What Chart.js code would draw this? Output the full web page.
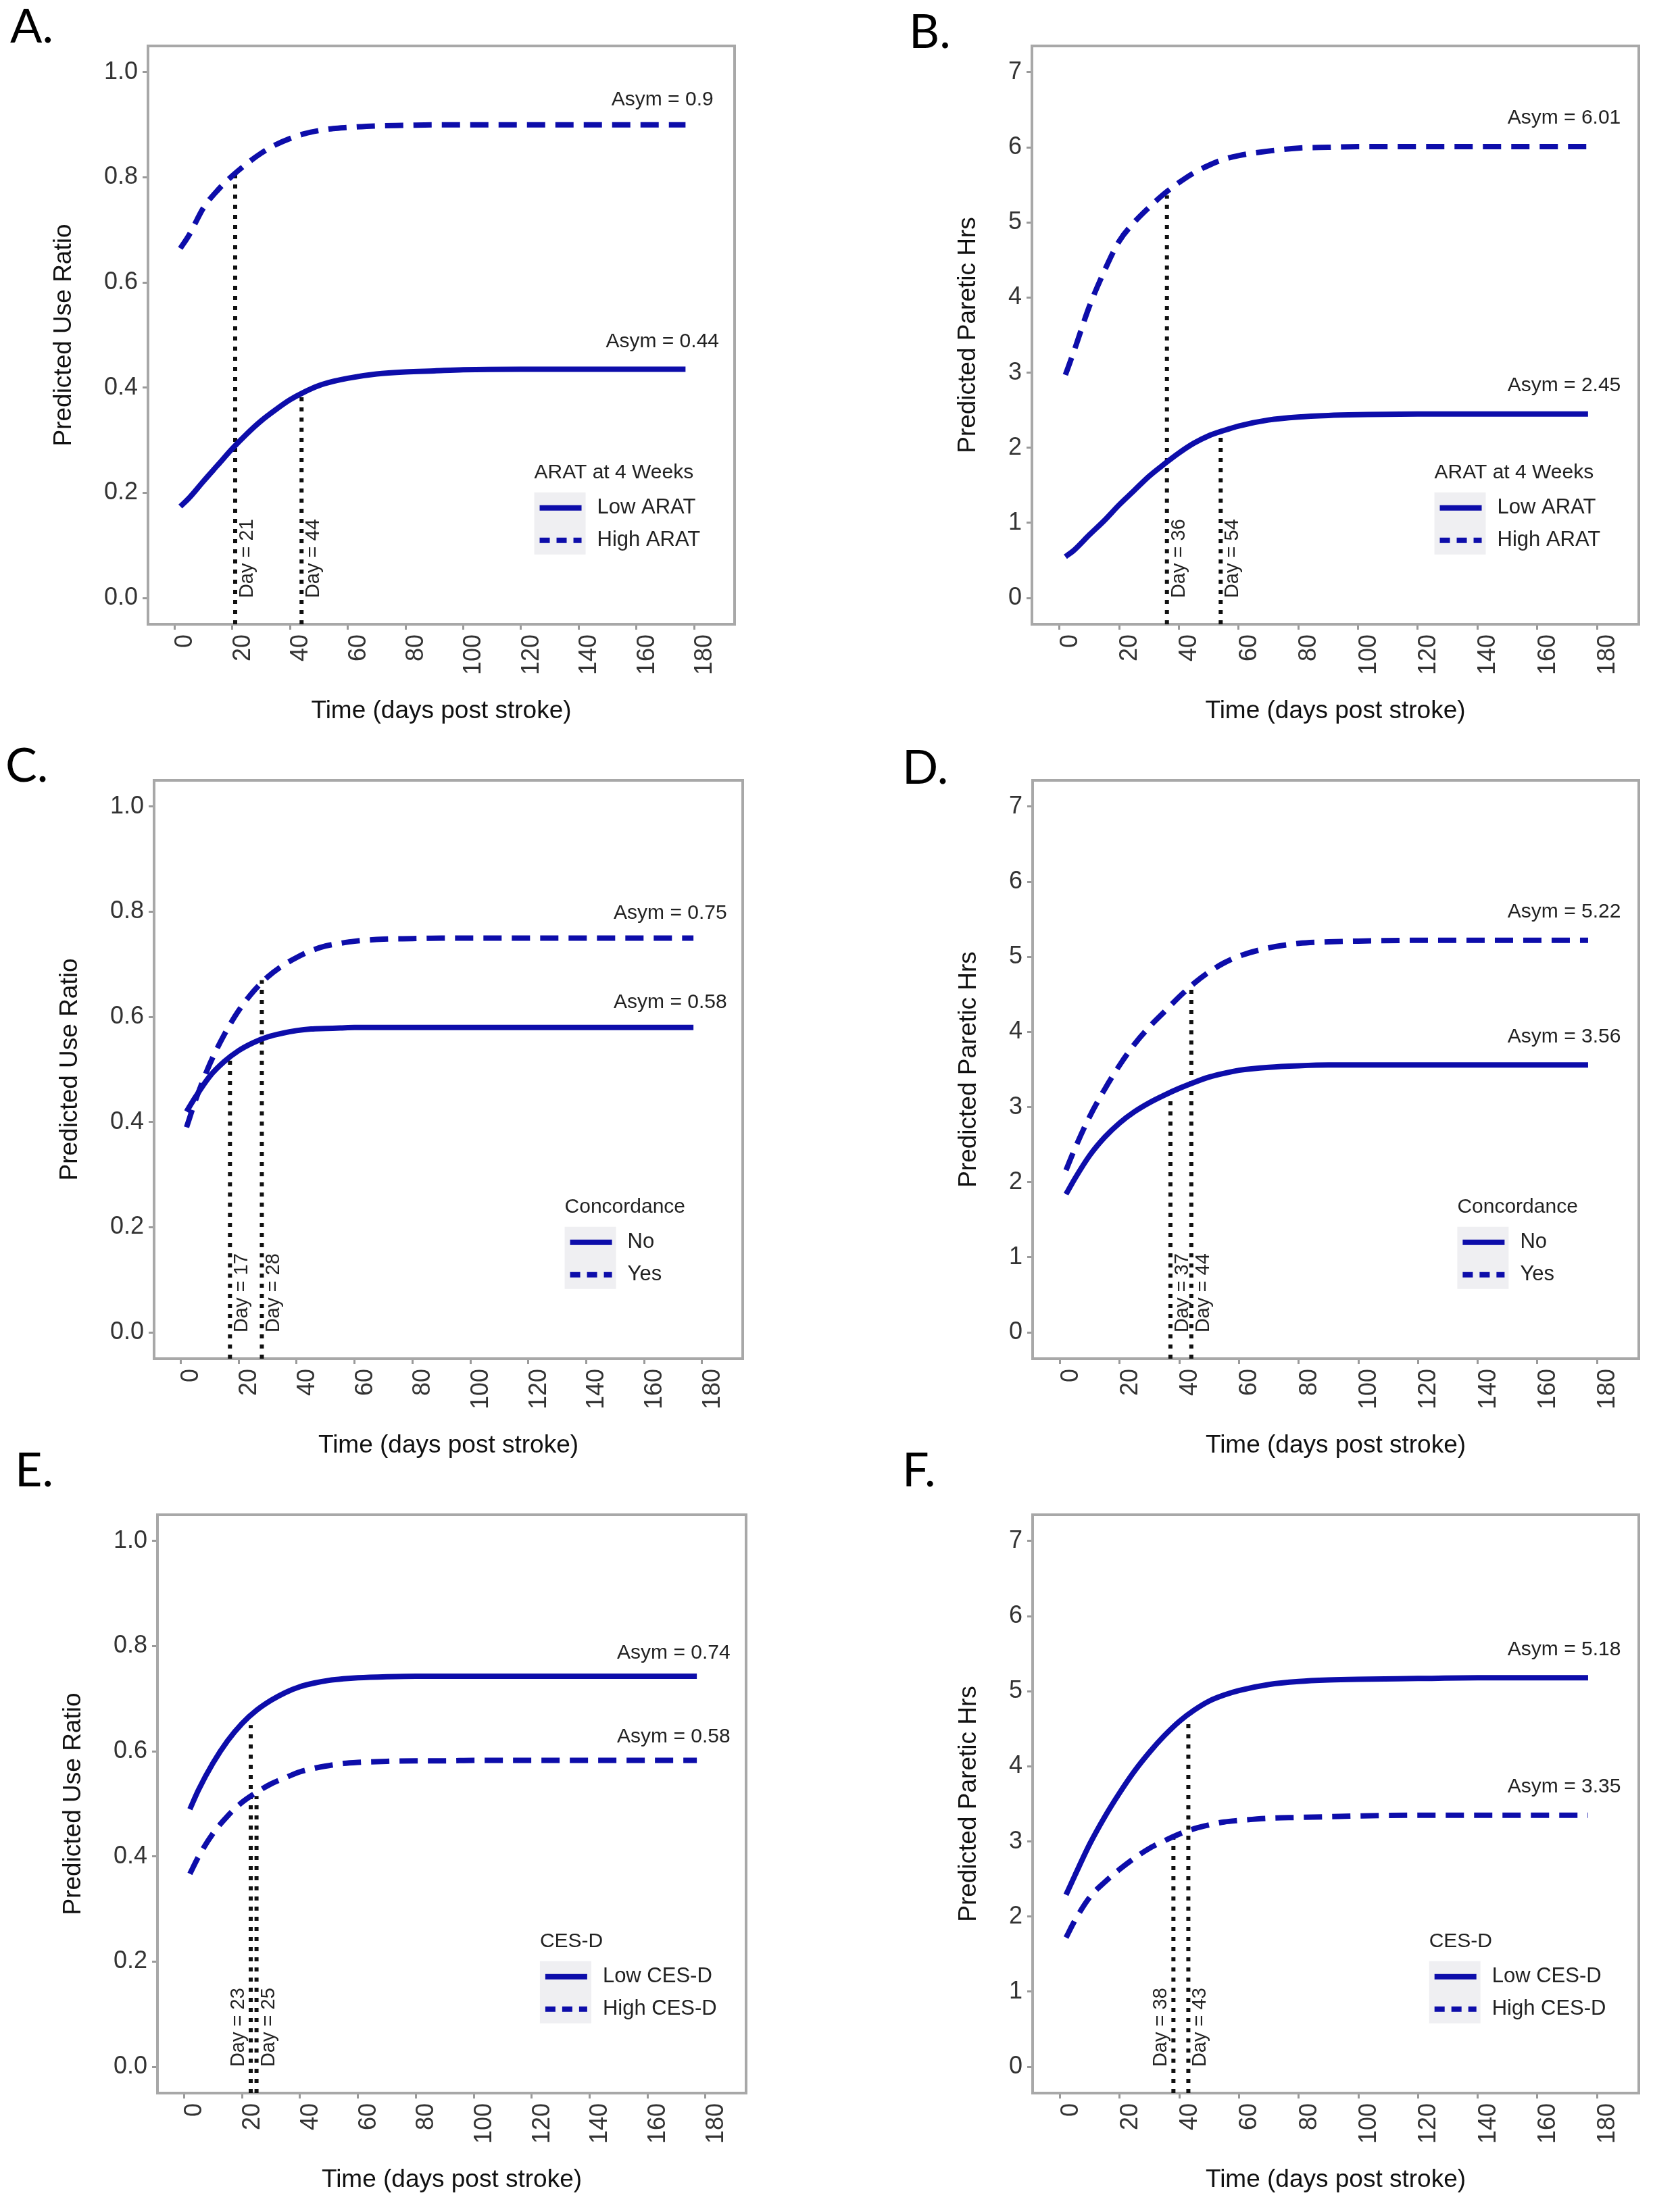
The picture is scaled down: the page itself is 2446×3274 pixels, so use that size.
<!DOCTYPE html>
<html>
<head>
<meta charset="utf-8">
<script src="https://cdn.jsdelivr.net/npm/chart.js@4.4.1/dist/chart.umd.min.js"></script>
<style>
  body { margin: 0; background: #fff; width: 2446px; height: 3274px; position: relative; overflow: hidden; }
  canvas { position: absolute; }
  .tag { position: absolute; font-family: Lato, "Open Sans", sans-serif; font-size: 70px; line-height: 70px; color: #000; }
</style>
</head>
<body>
<div class="tag" style="left:15px;top:1px">A.</div>
<div class="tag" style="left:1345px;top:9px">B.</div>
<div class="tag" style="left:8px;top:1095px">C.</div>
<div class="tag" style="left:1335px;top:1098px">D.</div>
<div class="tag" style="left:22px;top:2138px">E.</div>
<div class="tag" style="left:1335px;top:2138px">F.</div>
<script>
// sample days
const days = [2, 5, 10, 15, 20, 25, 30, 35, 40, 45, 50, 55, 60, 70, 80, 90, 100, 120, 140, 160, 177];
const xTicks = [0, 20, 40, 60, 80, 100, 120, 140, 160, 180];
const ratioTicks = [0, 0.2, 0.4, 0.6, 0.8, 1.0];
const hrsTicks = [0, 1, 2, 3, 4, 5, 6, 7];

// A. use ratio by ARAT
const aLow  = [0.174, 0.19, 0.222, 0.253, 0.284, 0.312, 0.337, 0.358, 0.377, 0.392, 0.404, 0.412, 0.418, 0.426, 0.43, 0.432, 0.434, 0.435, 0.435, 0.435, 0.435];
const aHigh = [0.665, 0.69, 0.742, 0.776, 0.803, 0.826, 0.846, 0.862, 0.874, 0.883, 0.889, 0.893, 0.895, 0.898, 0.899, 0.9, 0.9, 0.9, 0.9, 0.9, 0.9];
const aAsym = [0.44, 0.9];
const aDays = [21, 44];
const aDayTops = [0.807, 0.386];

// B. paretic hrs by ARAT
const bLow  = [0.55, 0.64, 0.84, 1.03, 1.24, 1.43, 1.62, 1.78, 1.93, 2.06, 2.16, 2.23, 2.29, 2.37, 2.41, 2.43, 2.44, 2.45, 2.45, 2.45, 2.45];
const bHigh = [2.97, 3.3, 3.88, 4.35, 4.75, 5.0, 5.2, 5.38, 5.53, 5.66, 5.76, 5.84, 5.89, 5.95, 5.99, 6.0, 6.01, 6.01, 6.01, 6.01, 6.01];
const bAsym = [2.45, 6.01];
const bDays = [36, 54];
const bDayTops = [5.36, 2.18];

// C. use ratio by concordance
const cNo  = [0.42, 0.447, 0.487, 0.515, 0.536, 0.551, 0.562, 0.569, 0.574, 0.577, 0.578, 0.579, 0.58, 0.58, 0.58, 0.58, 0.58, 0.58, 0.58, 0.58, 0.58];
const cYes = [0.39, 0.44, 0.51, 0.566, 0.612, 0.648, 0.676, 0.697, 0.713, 0.726, 0.735, 0.74, 0.744, 0.748, 0.749, 0.75, 0.75, 0.75, 0.75, 0.75, 0.75];
const cAsym = [0.58, 0.75];
const cDays = [17, 28];
const cDayTops = [0.52, 0.67];

// D. paretic hrs by concordance
const dNo  = [1.84, 2.05, 2.36, 2.6, 2.79, 2.94, 3.06, 3.16, 3.25, 3.33, 3.4, 3.45, 3.49, 3.53, 3.55, 3.56, 3.56, 3.56, 3.56, 3.56, 3.56];
const dYes = [2.16, 2.45, 2.88, 3.24, 3.56, 3.84, 4.07, 4.27, 4.47, 4.65, 4.8, 4.92, 5.01, 5.12, 5.18, 5.2, 5.21, 5.22, 5.22, 5.22, 5.22];
const dAsym = [3.56, 5.22];
const dDays = [37, 44];
const dDayTops = [3.15, 4.6];

// E. use ratio by CES-D
const eLow  = [0.49, 0.527, 0.578, 0.62, 0.653, 0.678, 0.697, 0.712, 0.723, 0.73, 0.735, 0.738, 0.74, 0.742, 0.743, 0.743, 0.743, 0.743, 0.743, 0.743, 0.743];
const eHigh = [0.367, 0.4, 0.444, 0.477, 0.503, 0.522, 0.538, 0.55, 0.561, 0.568, 0.573, 0.577, 0.579, 0.581, 0.582, 0.582, 0.583, 0.583, 0.583, 0.583, 0.583];
const eAsym = [0.74, 0.58];
const eDays = [23, 25];
const eDayTops = [0.65, 0.515];

// F. paretic hrs by CES-D
const fLow  = [2.29, 2.55, 2.97, 3.33, 3.65, 3.94, 4.19, 4.41, 4.6, 4.75, 4.87, 4.95, 5.01, 5.09, 5.13, 5.15, 5.16, 5.17, 5.18, 5.18, 5.18];
const fHigh = [1.72, 1.95, 2.26, 2.46, 2.63, 2.78, 2.91, 3.01, 3.1, 3.17, 3.22, 3.26, 3.28, 3.31, 3.32, 3.33, 3.34, 3.35, 3.35, 3.35, 3.35];
const fAsym = [5.18, 3.35];
const fDays = [38, 43];
const fDayTops = [3.06, 4.6];

const FONT = "'Liberation Sans', Arial, sans-serif";
const BLUE = '#0d0daa';

const decor = {
  id: 'decor',
  beforeDatasetsDraw(chart) {
    const { ctx, chartArea: ca } = chart;
    ctx.save();
    ctx.strokeStyle = '#a8a8a8';
    ctx.lineWidth = 4;
    ctx.strokeRect(ca.left, ca.top, ca.right - ca.left, ca.bottom - ca.top);
    ctx.restore();
  },
  afterDraw(chart, args, o) {
    const { ctx, chartArea: ca, scales: { x, y } } = chart;
    ctx.save();
    ctx.fillStyle = '#222';

    // asymptote labels
    ctx.font = '30px ' + FONT;
    ctx.textAlign = 'center';
    ctx.textBaseline = 'middle';
    o.asym.forEach(v => {
      ctx.fillText('Asym = ' + v, x.getPixelForValue(169), y.getPixelForValue(v) - o.asymGap);
    });

    // day labels
    ctx.font = '29px ' + FONT;
    o.days.forEach((d, i) => {
      ctx.save();
      ctx.translate(x.getPixelForValue(d) + 18 * o.side[i], y.getPixelForValue(0));
      ctx.rotate(-Math.PI / 2);
      ctx.textAlign = 'left';
      ctx.textBaseline = 'middle';
      ctx.fillText('Day = ' + d, 0, 0);
      ctx.restore();
    });

    // legend
    const lw = ca.right - ca.left, lh = ca.bottom - ca.top;
    ctx.font = '30px ' + FONT;
    const tw = ctx.measureText(o.legendTitle).width;
    ctx.font = '31px ' + FONT;
    const labw = Math.max(...o.labels.map(t => ctx.measureText(t).width));
    const w = Math.max(tw, 93 + labw);
    const lx = ca.left + 0.8 * lw - w / 2;
    const ty = ca.top + 0.738 * lh;
    ctx.textAlign = 'left';
    ctx.textBaseline = 'middle';
    ctx.font = '30px ' + FONT;
    ctx.fillText(o.legendTitle, lx, ty);
    ctx.fillStyle = '#efeff2';
    ctx.fillRect(lx, ty + 29, 76, 92);
    ctx.font = '31px ' + FONT;
    [[], [15, 10]].forEach((dash, i) => {
      const ry = ty + 52 + i * 48;
      ctx.strokeStyle = BLUE;
      ctx.lineWidth = 8;
      ctx.setLineDash(dash);
      ctx.beginPath();
      ctx.moveTo(lx + 8, ry);
      ctx.lineTo(lx + 70, ry);
      ctx.stroke();
      ctx.fillStyle = '#222';
      ctx.fillText(o.labels[i], lx + 93, ry);
    });
    ctx.restore();
  }
};

const panels = [
  { left: 219, top: 68, right: 1087, bottom: 924, gap: 124, hrs: false, solid: aLow, dashed: aHigh, asym: aAsym, days: aDays, tops: aDayTops, side: [1, 1],
    legendTitle: 'ARAT at 4 Weeks', labels: ['Low ARAT', 'High ARAT'] },
  { left: 1527, top: 68, right: 2425, bottom: 924, gap: 94, hrs: true, solid: bLow, dashed: bHigh, asym: bAsym, days: bDays, tops: bDayTops, side: [1, 1],
    legendTitle: 'ARAT at 4 Weeks', labels: ['Low ARAT', 'High ARAT'] },
  { left: 228, top: 1155, right: 1099, bottom: 2011, gap: 124, hrs: false, solid: cNo, dashed: cYes, asym: cAsym, days: cDays, tops: cDayTops, side: [1, 1],
    legendTitle: 'Concordance', labels: ['No', 'Yes'] },
  { left: 1528, top: 1155, right: 2425, bottom: 2011, gap: 94, hrs: true, solid: dNo, dashed: dYes, asym: dAsym, days: dDays, tops: dDayTops, side: [1, 1],
    legendTitle: 'Concordance', labels: ['No', 'Yes'] },
  { left: 233, top: 2242, right: 1104, bottom: 3098, gap: 124, hrs: false, solid: eLow, dashed: eHigh, asym: eAsym, days: eDays, tops: eDayTops, side: [-1, 1],
    legendTitle: 'CES-D', labels: ['Low CES-D', 'High CES-D'] },
  { left: 1528, top: 2242, right: 2425, bottom: 3098, gap: 94, hrs: true, solid: fLow, dashed: fHigh, asym: fAsym, days: fDays, tops: fDayTops, side: [-1, 1],
    legendTitle: 'CES-D', labels: ['Low CES-D', 'High CES-D'] }
];

const Y_W = 210, X_H = 170, PAD_T = 50, PAD_R = 21;

panels.forEach(p => {
  const cv = document.createElement('canvas');
  cv.width = (p.right - p.left) + Y_W + PAD_R;
  cv.height = (p.bottom - p.top) + PAD_T + X_H;
  cv.style.left = (p.left - Y_W) + 'px';
  cv.style.top = (p.top - PAD_T) + 'px';
  document.body.appendChild(cv);

  const ymin = p.hrs ? -0.35 : -0.05;
  const ymax = p.hrs ? 7.35 : 1.05;
  const yTicks = p.hrs ? hrsTicks : ratioTicks;

  const curve = (vals, dash) => ({
    data: days.map((d, i) => ({ x: d, y: vals[i] })),
    borderColor: BLUE, borderWidth: 8, borderDash: dash, borderCapStyle: 'butt',
    pointRadius: 0, cubicInterpolationMode: 'monotone', order: 1
  });

  const dayLines = p.days.map((d, i) => ({
    data: [{ x: d, y: ymin }, { x: d, y: p.tops[i] }],
    borderColor: '#111', borderWidth: 6, borderDash: [6, 9],
    pointRadius: 0, order: 2
  }));

  new Chart(cv, {
    type: 'line',
    data: { datasets: [curve(p.solid, []), curve(p.dashed, [27, 15]), ...dayLines] },
    options: {
      responsive: false,
      animation: false,
      layout: { padding: { left: 0, top: PAD_T, right: PAD_R, bottom: 0 } },
      plugins: {
        legend: { display: false },
        tooltip: { enabled: false },
        decor: { asym: p.asym, asymGap: p.hrs ? 42 : 37, days: p.days, side: p.side, legendTitle: p.legendTitle, labels: p.labels }
      },
      scales: {
        x: {
          type: 'linear', min: -9.2, max: 194,
          afterBuildTicks: s => { s.ticks = xTicks.map(v => ({ value: v })); },
          afterFit: s => { s.height = X_H; },
          ticks: { autoSkip: false, minRotation: 90, maxRotation: 90, padding: 7, labelOffset: 16, color: '#333', font: { size: 36, family: FONT } },
          grid: { drawOnChartArea: false, drawTicks: true, tickLength: 8, color: '#9a9a9a', lineWidth: 3 },
          border: { display: false },
          title: { display: true, text: 'Time (days post stroke)', color: '#111', font: { size: 37, family: FONT }, padding: { top: 0, bottom: 18.8 } }
        },
        y: {
          type: 'linear', min: ymin, max: ymax,
          afterBuildTicks: s => { s.ticks = yTicks.map(v => ({ value: v })); },
          afterFit: s => { s.width = Y_W; },
          ticks: { padding: 7, color: '#333', font: { size: 36, family: FONT }, callback: v => p.hrs ? String(v) : v.toFixed(1) },
          grid: { drawOnChartArea: false, drawTicks: true, tickLength: 8, color: '#9a9a9a', lineWidth: 3 },
          border: { display: false },
          title: { display: true, text: p.hrs ? 'Predicted Paretic Hrs' : 'Predicted Use Ratio', color: '#111', font: { size: 37, family: FONT }, padding: { top: Y_W - p.gap - 22.2, bottom: 0 } }
        }
      }
    },
    plugins: [decor]
  });
});
</script>
</body>
</html>
